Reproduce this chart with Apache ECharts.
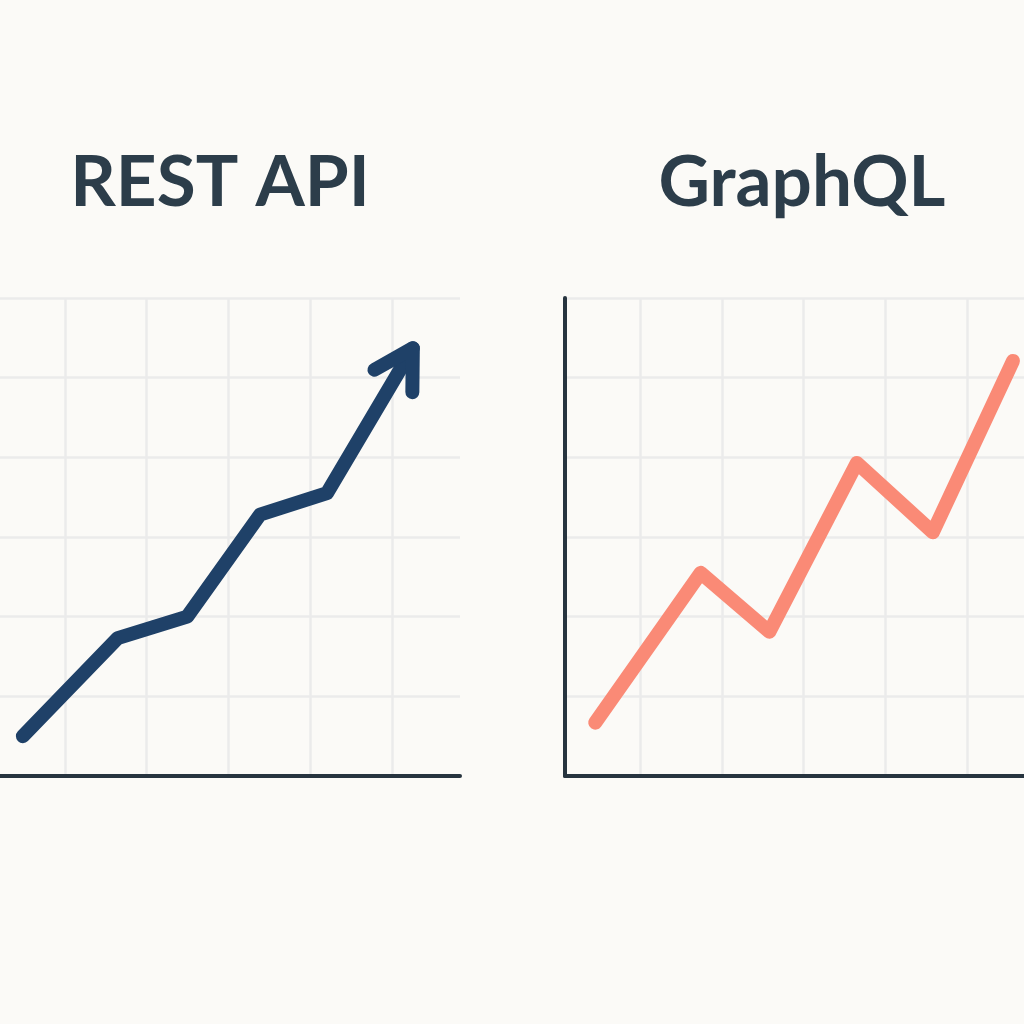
<!DOCTYPE html>
<html>
<head>
<meta charset="utf-8">
<title>REST API vs GraphQL</title>
<script src="https://cdn.jsdelivr.net/npm/echarts@6/dist/echarts.min.js"></script>
<style>
  html, body { margin: 0; padding: 0; background: #fbfaf7; }
  #chart { width: 1024px; height: 1024px; }
</style>
</head>
<body>
<div id="chart"></div>
<script>
// Panel titles
const titles = ["REST API", "GraphQL"];

// REST API line (x in grid columns from the panel's left edge, y in grid rows)
const restX = [0.28, 1.44, 2.29, 3.18, 4.0, 5.05];
const restY = [0.5, 1.73, 2.0, 3.28, 3.55, 5.37];

// GraphQL line (x in grid columns from the y axis)
const gqlX = [0.37, 1.66, 2.5, 3.57, 4.5, 5.48];
const gqlY = [0.67, 2.55, 1.81, 3.93, 3.06, 5.21];

const navy = "#1f4168";
const salmon = "#fa8a76";
const axisColor = "#27343f";
const gridColor = "#ebebeb";
const titleFont = { fontFamily: "Lato", fontWeight: 700, fontSize: 71, color: "#2c3d4a" };

const chart = echarts.init(document.getElementById("chart"));

const zip = (xs, ys) => xs.map((x, i) => [x, ys[i]]);

const gridLine = { show: true, showMinLine: false, showMaxLine: false, lineStyle: { color: gridColor, width: 2.5 } };
const darkLine = { show: true, lineStyle: { color: axisColor, width: 4, cap: "round" } };
const noLabels = { axisTick: { show: false }, axisLabel: { show: false } };

const option = {
  backgroundColor: "#fbfaf7",
  animation: false,
  title: [
    { text: titles[0], left: 215, top: 143, textAlign: "center", textStyle: titleFont },
    { text: titles[1], left: 797, top: 143, textAlign: "center", textStyle: titleFont },
  ],
  grid: [
    { left: 65, right: 564, top: 298, bottom: 248 },     // REST vertical grid lines
    { left: 0, right: 564, top: 298, bottom: 248 },      // REST data
    { left: 558.25, right: 0, top: 298, bottom: 248 },   // GraphQL vertical grid lines
    { left: 565, right: 0, top: 298, bottom: 248 },      // GraphQL data
  ],
  xAxis: [
    { gridIndex: 0, type: "value", min: 0, max: 4.832, interval: 1, axisLine: { show: false }, ...noLabels,
      splitLine: { ...gridLine, showMinLine: true } },
    { gridIndex: 1, type: "value", min: 0, max: 5.627, axisLine: darkLine, ...noLabels,
      splitLine: { show: false } },
    { gridIndex: 2, type: "value", min: 0, max: 5.697, interval: 1, axisLine: { show: false }, ...noLabels,
      splitLine: gridLine },
    { gridIndex: 3, type: "value", min: 0, max: 5.615, axisLine: darkLine, ...noLabels,
      splitLine: { show: false } },
  ],
  yAxis: [
    { gridIndex: 0, type: "value", min: 0, max: 6, show: false },
    { gridIndex: 1, type: "value", min: 0, max: 6, interval: 1, axisLine: { show: false }, ...noLabels,
      splitLine: { ...gridLine, showMaxLine: true } },
    { gridIndex: 2, type: "value", min: 0, max: 6, show: false },
    { gridIndex: 3, type: "value", min: 0, max: 6, interval: 1, axisLine: darkLine, ...noLabels,
      splitLine: { ...gridLine, showMaxLine: true } },
  ],
  series: [
    {
      name: titles[0], type: "line", xAxisIndex: 1, yAxisIndex: 1,
      data: zip(restX, restY), symbol: "none", z: 5,
      lineStyle: { color: navy, width: 14, cap: "round", join: "round" },
    },
    {
      name: titles[1], type: "line", xAxisIndex: 3, yAxisIndex: 3,
      data: zip(gqlX, gqlY), symbol: "none", z: 5,
      lineStyle: { color: salmon, width: 14, cap: "round", join: "round" },
    },
  ],
};
chart.setOption(option);

// Arrow head on the end of the REST line, following its last segment
const n = restX.length;
const tip = chart.convertToPixel({ gridIndex: 1 }, [restX[n - 1], restY[n - 1]]);
const prev = chart.convertToPixel({ gridIndex: 1 }, [restX[n - 2], restY[n - 2]]);
const back = Math.atan2(prev[1] - tip[1], prev[0] - tip[0]);
const armLen = 44;
const spread = (30 * Math.PI) / 180;
const arm = (a) => [tip[0] + armLen * Math.cos(a), tip[1] + armLen * Math.sin(a)];
chart.setOption({
  graphic: [
    {
      type: "polyline", z: 10,
      shape: { points: [arm(back - spread), tip, arm(back + spread)] },
      style: { stroke: navy, lineWidth: 14, lineCap: "round", lineJoin: "round", fill: null },
    },
  ],
});
</script>
</body>
</html>
